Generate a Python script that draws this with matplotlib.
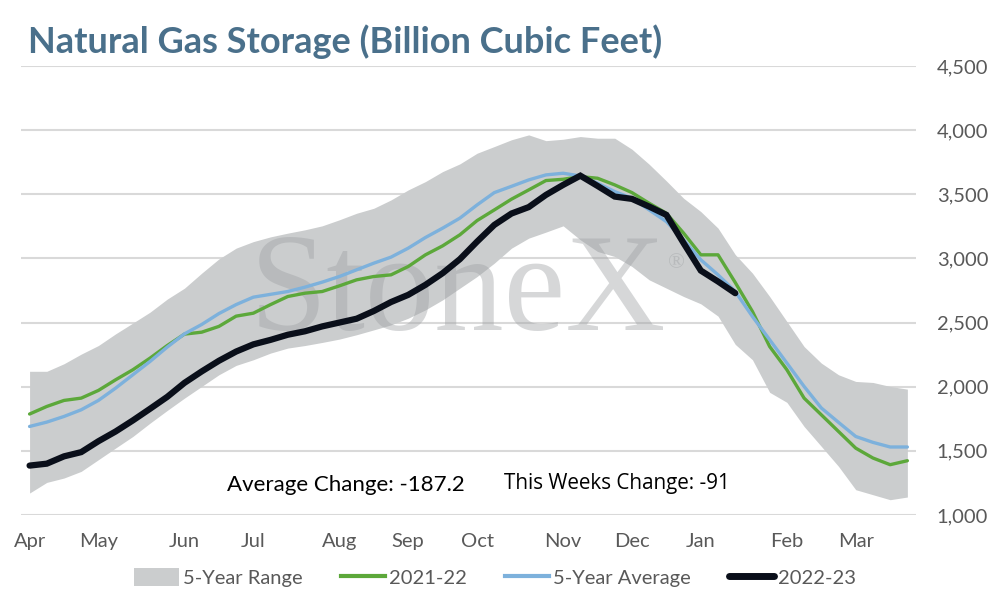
import matplotlib
matplotlib.use('Agg')
import matplotlib.pyplot as plt
from matplotlib.patches import Patch
from matplotlib.lines import Line2D

plt.rcParams['font.family'] = ['Lato', 'DejaVu Sans']

MONTHS = ['Apr', 'May', 'Jun', 'Jul', 'Aug', 'Sep', 'Oct', 'Nov', 'Dec', 'Jan', 'Feb', 'Mar']
MONTH_WEEK = [0, 4, 9, 13, 18, 22, 26, 31, 35, 39, 44, 48]

range_low = [1171, 1254, 1288, 1340, 1431, 1522, 1612, 1716, 1815, 1911,
             2002, 2093, 2166, 2210, 2262, 2301, 2321, 2345, 2371, 2405,
             2443, 2482, 2534, 2599, 2677, 2768, 2859, 2963, 3080, 3158,
             3205, 3254, 3145, 3054, 3015, 2937, 2833, 2768, 2703, 2646,
             2550, 2330, 2210, 1956, 1878, 1690, 1535, 1379, 1197, 1158,
             1119, 1140]
range_high = [2120, 2120, 2179, 2254, 2321, 2412, 2496, 2581, 2683, 2768,
              2885, 2996, 3080, 3131, 3168, 3197, 3223, 3254, 3301, 3352,
              3391, 3456, 3534, 3599, 3677, 3737, 3820, 3872, 3925, 3963,
              3918, 3929, 3950, 3937, 3937, 3851, 3734, 3604, 3469, 3365,
              3236, 3030, 2885, 2703, 2508, 2313, 2184, 2093, 2041, 2033,
              2002, 1981]
avg_5yr = [1690, 1724, 1768, 1820, 1893, 1989, 2093, 2197, 2309, 2412,
           2485, 2570, 2640, 2698, 2720, 2742, 2776, 2815, 2859, 2911,
           2963, 3010, 3080, 3163, 3236, 3314, 3417, 3513, 3562, 3612,
           3651, 3664, 3643, 3586, 3521, 3469, 3378, 3287, 3145, 2989,
           2872, 2742, 2547, 2366, 2184, 2002, 1834, 1722, 1612, 1566,
           1530, 1530]
y2021_22 = [1787, 1846, 1893, 1911, 1971, 2054, 2132, 2223, 2321, 2410,
            2425, 2470, 2550, 2573, 2640, 2703, 2729, 2742, 2786, 2833,
            2859, 2872, 2937, 3028, 3098, 3184, 3295, 3378, 3462, 3534,
            3607, 3617, 3638, 3625, 3573, 3513, 3430, 3352, 3197, 3028,
            3028, 2812, 2586, 2313, 2132, 1911, 1781, 1651, 1521, 1444,
            1392, 1423]
y2022_23 = [1385, 1400, 1457, 1490, 1575, 1651, 1737, 1828, 1921, 2030,
            2119, 2202, 2274, 2330, 2365, 2405, 2432, 2470, 2500, 2530,
            2590, 2660, 2716, 2794, 2885, 2994, 3131, 3261, 3350, 3400,
            3495, 3573, 3645, 3565, 3482, 3464, 3404, 3339, 3119, 2905,
            2820, 2729]

GREY = '#cbcdce'
GREEN = '#5ca83a'
BLUE = '#7db1dc'
BLACK = '#0a0f1a'
TXT = '#595959'

fig = plt.figure(figsize=(9.94, 6.0), dpi=100)
ax = fig.add_axes([0.0211, 0.1417, 0.9004, 0.7483])

weeks = list(range(len(range_low)))
ax.fill_between(weeks, range_low, range_high, color=GREY, lw=0, zorder=1)

ax.text(24.9, 2440, 'StoneX', family=['Liberation Serif'], fontsize=100,
        color='#9ea1a4', alpha=0.42, ha='center', va='baseline', zorder=2)
ax.text(37.6, 2960, '®', family=['Liberation Serif'], fontsize=16,
        color='#9ea1a4', alpha=0.42, ha='center', va='center', zorder=2)

ax.plot(weeks, y2021_22, color=GREEN, lw=2.4, zorder=3, solid_capstyle='round')
ax.plot(weeks, avg_5yr, color=BLUE, lw=2.4, zorder=3, solid_capstyle='round')
ax.plot(range(len(y2022_23)), y2022_23, color=BLACK, lw=4.5, zorder=4,
        solid_capstyle='round', solid_joinstyle='miter')

ax.set_xlim(-0.5, 51.5)
ax.set_ylim(1000, 4500)
ax.set_yticks(range(1000, 4501, 500))
ax.set_yticklabels([f'{v:,}' for v in range(1000, 4501, 500)])
ax.yaxis.tick_right()
ax.set_xticks(MONTH_WEEK)
ax.set_xticklabels(MONTHS)
ax.tick_params(axis='both', length=0, labelsize=14.5, labelcolor=TXT)
ax.tick_params(axis='y', pad=15)
ax.tick_params(axis='x', pad=13)
ax.grid(axis='y', color='#d9d9d9', lw=1.5, zorder=0)
ax.set_axisbelow(True)
for s in ax.spines.values():
    s.set_visible(False)

ax.text(18.4, 1230, 'Average Change: -187.2', fontsize=16, color='black',
        ha='center', va='center', zorder=5)
ax.text(34.1, 1245, 'This Weeks Change: -91', fontsize=14.9, color='black',
        family=['Open Sans'], ha='center', va='center', zorder=5)

fig.text(0.028, 0.93, 'Natural Gas Storage (Billion Cubic Feet)', fontsize=26,
         fontweight='bold', color='#4a708b', ha='left', va='center')

handles = [Patch(color=GREY, lw=0),
           Line2D([], [], color=GREEN, lw=3),
           Line2D([], [], color=BLUE, lw=3),
           Line2D([], [], color=BLACK, lw=5, solid_capstyle='round')]
labels = ['5-Year Range', '2021-22', '5-Year Average', '2022-23']
fig.legend(handles, labels, loc='center', bbox_to_anchor=(0.498, 0.037), ncol=4,
           frameon=False, fontsize=14.5, labelcolor=TXT, handlelength=2.2,
           handletextpad=0.2, columnspacing=1.9, handleheight=1.0)

fig.savefig('out.png', dpi=100)
